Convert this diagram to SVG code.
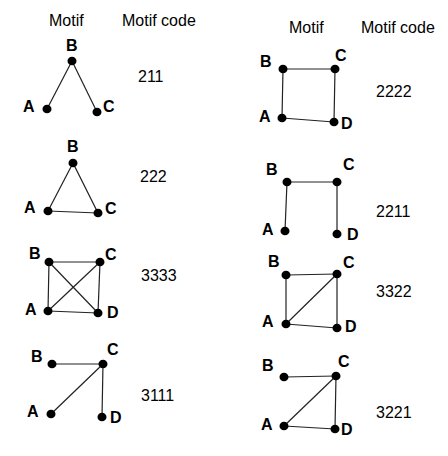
<svg xmlns="http://www.w3.org/2000/svg" width="448" height="456" viewBox="0 0 448 456">
<style>
.bg{fill:#fff}
.h{font-family:"Liberation Sans",Arial,sans-serif;font-size:16px;fill:#000}
.code{font-family:"Liberation Sans",Arial,sans-serif;font-size:16px;fill:#000}
.lab{font-family:"Liberation Sans",Arial,sans-serif;font-size:16px;font-weight:bold;fill:#000}
.dot{fill:#000}
.e{stroke:#222;stroke-width:1.2;fill:none}
</style>
<rect class="bg" x="0" y="0" width="448" height="456"/>
<g id="headers">
<text class="h" x="49" y="26">Motif</text>
<text class="h" x="122" y="26">Motif code</text>
<text class="h" x="289" y="33">Motif</text>
<text class="h" x="361" y="33">Motif code</text>
</g>
<g id="connectors">
<line class="e" x1="72" y1="61" x2="47" y2="109"/>
<line class="e" x1="72" y1="61" x2="97" y2="112"/>
<line class="e" x1="73" y1="163" x2="48" y2="211"/>
<line class="e" x1="73" y1="163" x2="98" y2="213"/>
<line class="e" x1="48" y1="211" x2="98" y2="213"/>
<line class="e" x1="49" y1="262" x2="100" y2="262"/>
<line class="e" x1="49" y1="262" x2="48" y2="311"/>
<line class="e" x1="100" y1="262" x2="98" y2="313"/>
<line class="e" x1="48" y1="311" x2="98" y2="313"/>
<line class="e" x1="49" y1="262" x2="98" y2="313"/>
<line class="e" x1="100" y1="262" x2="48" y2="311"/>
<line class="e" x1="52" y1="364" x2="103" y2="364"/>
<line class="e" x1="103" y1="364" x2="51" y2="414"/>
<line class="e" x1="103" y1="364" x2="102" y2="417"/>
<line class="e" x1="283" y1="69" x2="335" y2="69"/>
<line class="e" x1="283" y1="69" x2="282" y2="118"/>
<line class="e" x1="335" y1="69" x2="334" y2="122"/>
<line class="e" x1="282" y1="118" x2="334" y2="122"/>
<line class="e" x1="287" y1="182" x2="337" y2="182"/>
<line class="e" x1="287" y1="182" x2="285" y2="231"/>
<line class="e" x1="337" y1="182" x2="337" y2="234"/>
<line class="e" x1="286" y1="275" x2="337" y2="274"/>
<line class="e" x1="286" y1="275" x2="286" y2="324"/>
<line class="e" x1="337" y1="274" x2="337" y2="328"/>
<line class="e" x1="286" y1="324" x2="337" y2="328"/>
<line class="e" x1="286" y1="324" x2="337" y2="274"/>
<line class="e" x1="284" y1="377" x2="336" y2="376"/>
<line class="e" x1="336" y1="376" x2="284" y2="426"/>
<line class="e" x1="336" y1="376" x2="335" y2="429"/>
<line class="e" x1="284" y1="426" x2="335" y2="429"/>
</g>
<g id="m211">
<g id="m211-B"><ellipse class="dot" cx="72" cy="61" rx="4.5" ry="4.3"/><text class="lab" x="66" y="51">B</text></g>
<g id="m211-A"><ellipse class="dot" cx="47" cy="109" rx="4.5" ry="4.3"/><text class="lab" x="23" y="112">A</text></g>
<g id="m211-C"><ellipse class="dot" cx="97" cy="112" rx="4.5" ry="4.3"/><text class="lab" x="103" y="112">C</text></g>
<text class="code" x="138" y="82">211</text>
</g>
<g id="m222">
<g id="m222-B"><ellipse class="dot" cx="73" cy="163" rx="4.5" ry="4.3"/><text class="lab" x="67" y="152">B</text></g>
<g id="m222-A"><ellipse class="dot" cx="48" cy="211" rx="4.5" ry="4.3"/><text class="lab" x="24" y="213">A</text></g>
<g id="m222-C"><ellipse class="dot" cx="98" cy="213" rx="4.5" ry="4.3"/><text class="lab" x="105" y="214">C</text></g>
<text class="code" x="140" y="182">222</text>
</g>
<g id="m3333">
<g id="m3333-B"><ellipse class="dot" cx="49" cy="262" rx="4.5" ry="4.3"/><text class="lab" x="29" y="259">B</text></g>
<g id="m3333-C"><ellipse class="dot" cx="100" cy="262" rx="4.5" ry="4.3"/><text class="lab" x="105" y="260">C</text></g>
<g id="m3333-A"><ellipse class="dot" cx="48" cy="311" rx="4.5" ry="4.3"/><text class="lab" x="25" y="315">A</text></g>
<g id="m3333-D"><ellipse class="dot" cx="98" cy="313" rx="4.5" ry="4.3"/><text class="lab" x="107" y="318">D</text></g>
<text class="code" x="141" y="281">3333</text>
</g>
<g id="m3111">
<g id="m3111-B"><ellipse class="dot" cx="52" cy="364" rx="4.5" ry="4.3"/><text class="lab" x="31" y="362">B</text></g>
<g id="m3111-C"><ellipse class="dot" cx="103" cy="364" rx="4.5" ry="4.3"/><text class="lab" x="107" y="355">C</text></g>
<g id="m3111-A"><ellipse class="dot" cx="51" cy="414" rx="4.5" ry="4.3"/><text class="lab" x="27" y="417">A</text></g>
<g id="m3111-D"><ellipse class="dot" cx="102" cy="417" rx="4.5" ry="4.3"/><text class="lab" x="110" y="423">D</text></g>
<text class="code" x="141" y="401">3111</text>
</g>
<g id="m2222">
<g id="m2222-B"><ellipse class="dot" cx="283" cy="69" rx="4.5" ry="4.3"/><text class="lab" x="260" y="67">B</text></g>
<g id="m2222-C"><ellipse class="dot" cx="335" cy="69" rx="4.5" ry="4.3"/><text class="lab" x="335" y="61">C</text></g>
<g id="m2222-A"><ellipse class="dot" cx="282" cy="118" rx="4.5" ry="4.3"/><text class="lab" x="259" y="122">A</text></g>
<g id="m2222-D"><ellipse class="dot" cx="334" cy="122" rx="4.5" ry="4.3"/><text class="lab" x="341" y="129">D</text></g>
<text class="code" x="376" y="97">2222</text>
</g>
<g id="m2211">
<g id="m2211-B"><ellipse class="dot" cx="287" cy="182" rx="4.5" ry="4.3"/><text class="lab" x="266" y="175">B</text></g>
<g id="m2211-C"><ellipse class="dot" cx="337" cy="182" rx="4.5" ry="4.3"/><text class="lab" x="343" y="170">C</text></g>
<g id="m2211-A"><ellipse class="dot" cx="285" cy="231" rx="4.5" ry="4.3"/><text class="lab" x="262" y="235">A</text></g>
<g id="m2211-D"><ellipse class="dot" cx="337" cy="234" rx="4.5" ry="4.3"/><text class="lab" x="347" y="240">D</text></g>
<text class="code" x="376" y="217">2211</text>
</g>
<g id="m3322">
<g id="m3322-B"><ellipse class="dot" cx="286" cy="275" rx="4.5" ry="4.3"/><text class="lab" x="268" y="267">B</text></g>
<g id="m3322-C"><ellipse class="dot" cx="337" cy="274" rx="4.5" ry="4.3"/><text class="lab" x="343" y="268">C</text></g>
<g id="m3322-A"><ellipse class="dot" cx="286" cy="324" rx="4.5" ry="4.3"/><text class="lab" x="262" y="327">A</text></g>
<g id="m3322-D"><ellipse class="dot" cx="337" cy="328" rx="4.5" ry="4.3"/><text class="lab" x="345" y="332">D</text></g>
<text class="code" x="376" y="297">3322</text>
</g>
<g id="m3221">
<g id="m3221-B"><ellipse class="dot" cx="284" cy="377" rx="4.5" ry="4.3"/><text class="lab" x="262" y="371">B</text></g>
<g id="m3221-C"><ellipse class="dot" cx="336" cy="376" rx="4.5" ry="4.3"/><text class="lab" x="338" y="367">C</text></g>
<g id="m3221-A"><ellipse class="dot" cx="284" cy="426" rx="4.5" ry="4.3"/><text class="lab" x="261" y="430">A</text></g>
<g id="m3221-D"><ellipse class="dot" cx="335" cy="429" rx="4.5" ry="4.3"/><text class="lab" x="341" y="435">D</text></g>
<text class="code" x="376" y="418">3221</text>
</g>
</svg>
